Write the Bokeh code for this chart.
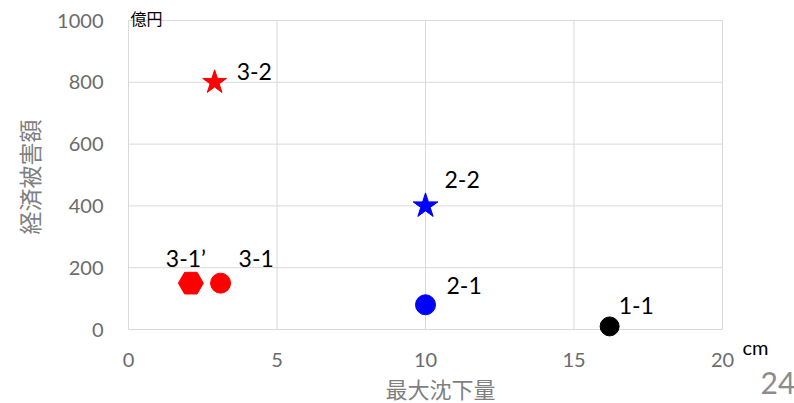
import math
from bokeh.plotting import figure
from bokeh.models import Range1d, Label, FixedTicker, ColumnDataSource, LinearAxis
from bokeh.core.properties import value
from bokeh.embed import file_html
from bokeh.resources import INLINE

# data
labels = ["1-1", "2-1", "2-2", "3-1", "3-1\u2019", "3-2"]
subsidence_cm = [16.2, 10.0, 10.0, 3.1, 2.1, 2.9]
damage_oku_yen = [10, 80, 400, 150, 150, 800]
markers = ["circle", "circle", "star", "circle", "hex", "star"]
colors = ["#000000", "#0000ff", "#0000ff", "#ff0000", "#ff0000", "#ff0000"]
x_ticks = [0, 5, 10, 15, 20]
y_ticks = [0, 200, 400, 600, 800, 1000]
x_title = "最大沈下量"
y_title = "経済被害額"
y_unit = "億円"
x_unit = "cm"
page_no = "24"

# layout (pixels)
W, H = 794, 403
FL, FR, FT, FB = 128, 722, 20, 329
x0, x1 = x_ticks[0], x_ticks[-1]
y0, y1 = y_ticks[0], y_ticks[-1]
xs = (x1 - x0) / (FR - FL)
ys = (y1 - y0) / (FB - FT)

# styling
sizes = [19, 20, 26, 20, 25, 25]
lbl_dx = [9, 21, 19, 18, -25, 22]
lbl_dy = [-21, -19, -26, -25, -25, -11]

src = ColumnDataSource(dict(x=subsidence_cm, y=damage_oku_yen, m=markers, c=colors,
                            s=sizes, t=labels, dx=lbl_dx, dy=lbl_dy))

p = figure(width=W, height=H, output_backend="svg", toolbar_location=None,
           x_range=Range1d(x0 - FL * xs, x1 + (W - FR) * xs),
           y_range=Range1d(y0 - (H - FB) * ys, y1 + FT * ys),
           x_axis_location=None, y_axis_location=None, min_border=0)
p.outline_line_color = None
p.background_fill_color = "white"
p.border_fill_color = "white"
p.grid.visible = False

xax = LinearAxis(fixed_location=y0, ticker=FixedTicker(ticks=x_ticks), bounds=(x0, x1))
yax = LinearAxis(fixed_location=x0, ticker=FixedTicker(ticks=y_ticks), bounds=(y0, y1))
for ax in (xax, yax):
    ax.axis_line_color = None
    ax.major_tick_line_color = None
    ax.minor_tick_line_color = None
    ax.major_tick_out = 0
    ax.major_tick_in = 0
    ax.minor_tick_out = 0
    ax.major_label_text_font = "Lato"
    ax.major_label_text_font_size = "20px"
    ax.major_label_text_color = "#6b6b6b"
xax.major_label_standoff = 23
yax.major_label_standoff = 25
p.add_layout(xax, "below")
p.add_layout(yax, "left")

# grid lines limited to the plot area
gx = [x0] * len(y_ticks)
gx1 = [x1] * len(y_ticks)
gy = [y0] * len(x_ticks)
gy1 = [y1] * len(x_ticks)
p.segment(x0=x_ticks, y0=gy, x1=x_ticks, y1=gy1, line_color="#d9d9d9", line_width=1)
p.segment(x0=gx, y0=y_ticks, x1=gx1, y1=y_ticks, line_color="#d9d9d9", line_width=1)

p.scatter("x", "y", marker="m", size="s", fill_color="c", line_color="c", source=src)
p.text("x", "y", text="t", x_offset="dx", y_offset="dy", source=src,
       text_font=value("Lato"), text_font_size="23px", text_color="black",
       text_align="left", text_baseline="middle")

p.add_layout(Label(x=(x0 + x1) / 2, y=y0, text=x_title, x_offset=15, y_offset=-58,
                   text_font="Noto Sans CJK JP", text_font_size="22px",
                   text_color="#7f7f7f", text_align="center", text_baseline="middle"))
p.add_layout(Label(x=x0, y=(y0 + y1) / 2, text=y_title, x_offset=-100, y_offset=-2,
                   angle=math.pi / 2, text_font="Noto Sans CJK JP", text_font_size="23px",
                   text_color="#7f7f7f", text_align="center", text_baseline="middle"))
p.add_layout(Label(x=x0, y=y1, text=y_unit, x_offset=2, y_offset=3,
                   text_font="Noto Sans CJK JP", text_font_size="16px",
                   text_color="black", text_baseline="middle"))
p.add_layout(Label(x=x1, y=y0, text=x_unit, x_offset=20, y_offset=-17,
                   text_font="Lato", text_font_size="20px",
                   text_color="black", text_baseline="middle"))
p.add_layout(Label(x=x1, y=y0, text=page_no, x_offset=38, y_offset=-53,
                   text_font="Lato", text_font_size="30px",
                   text_color="#8c8c8c", text_baseline="middle"))

open("out.html", "w").write(file_html(p, INLINE))
